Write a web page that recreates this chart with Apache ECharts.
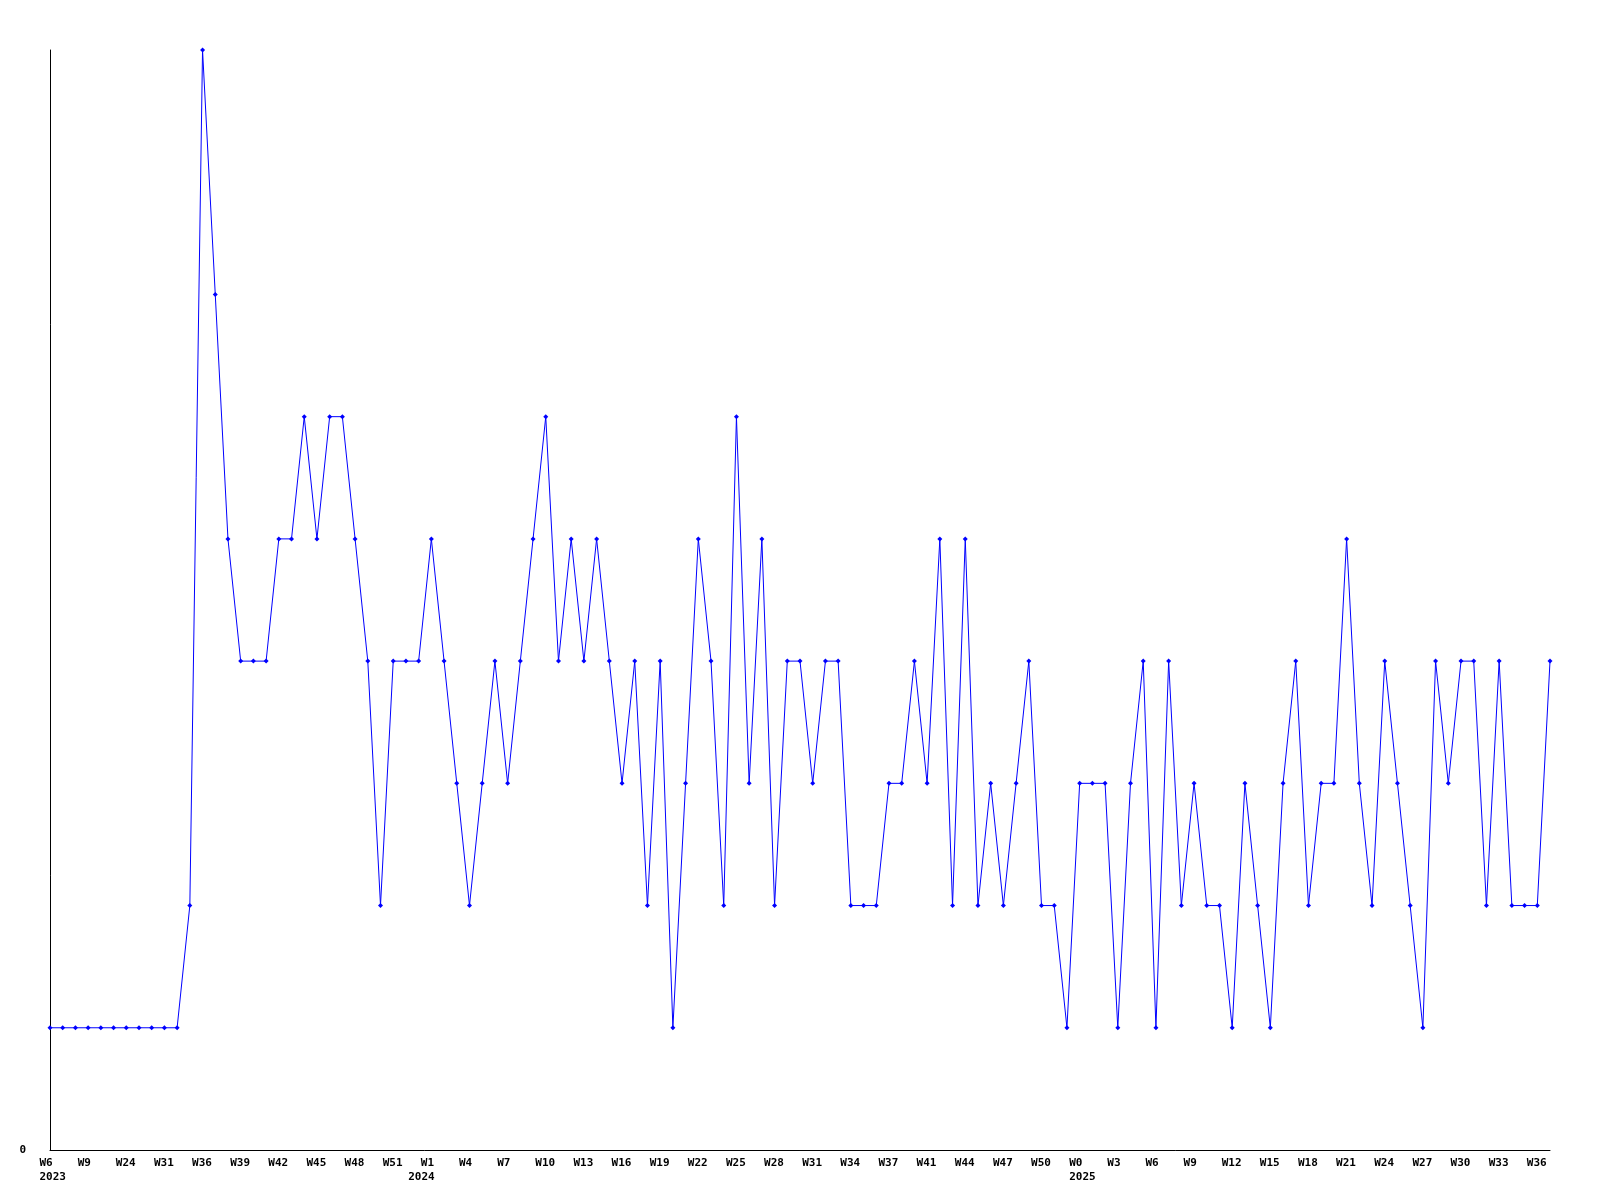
<!DOCTYPE html>
<html>
<head>
<meta charset="utf-8">
<script src="https://cdn.jsdelivr.net/npm/echarts@6/dist/echarts.min.js"></script>
<style>html,body{margin:0;padding:0;background:#fff}#c{width:1600px;height:1200px}</style>
</head>
<body>
<div id="c"></div>
<script>
const weeks2023 = ['W6','W7','W8','W9','W14','W19','W24','W26','W29','W31','W33','W35','W36','W37','W38','W39','W40','W41','W42','W43','W44','W45','W46','W47','W48','W49','W50','W51','W52'];
const weeks2024 = ['W0','W1','W2','W3','W4','W5','W6','W7','W8','W9','W10','W11','W12','W13','W14','W15','W16','W17','W18','W19','W20','W21','W22','W23','W24','W25','W26','W27','W28','W29','W30','W31','W32','W33','W34','W35','W36','W37','W38','W39','W41','W42','W43','W44','W45','W46','W47','W48','W49','W50','W51','W52'];
const weeks2025 = ['W0','W1','W2','W3','W4','W5','W6','W7','W8','W9','W10','W11','W12','W13','W14','W15','W16','W17','W18','W19','W20','W21','W22','W23','W24','W25','W26','W27','W28','W29','W30','W31','W32','W33','W34','W35','W36','W37'];
const categories = weeks2023.concat(weeks2024, weeks2025);
const yearTickIndex = [0, 29, 81];
const yearTickText = ['2023', '2024', '2025'];
const values = [
  1,1,1,1,1,1,1,1,1,1,1,2,9,7,5,4,4,4,5,5,
  6,5,6,6,5,4,2,4,4,4,5,4,3,2,3,4,3,4,5,6,
  4,5,4,5,4,3,4,2,4,1,3,5,4,2,6,3,5,2,4,4,
  3,4,4,2,2,2,3,3,4,3,5,2,5,2,3,2,3,4,2,2,
  1,3,3,3,1,3,4,1,4,2,3,2,2,1,3,2,1,3,4,2,
  3,3,5,3,2,4,3,2,1,4,3,4,4,2,4,2,2,2,4
];
const yMin = 0, yMax = 9;

const chart = echarts.init(document.getElementById('c'), null, {renderer: 'canvas'});
const font = '"DejaVu Sans Mono", monospace';
chart.setOption({
  backgroundColor: '#ffffff',
  animation: false,
  grid: {left: 50, right: 50, top: 50, bottom: 50, containLabel: false},
  xAxis: {
    type: 'category',
    data: categories,
    boundaryGap: false,
    axisLine: {show: true, lineStyle: {color: '#000', width: 1}},
    axisTick: {show: false},
    splitLine: {show: false},
    axisLabel: {
      interval: function (i) { return i % 3 === 0 || yearTickIndex.indexOf(i) >= 0; },
      margin: 6,
      align: 'center',
      formatter: function (v, i) {
        const k = yearTickIndex.indexOf(i);
        const top = (i % 3 === 0) ? v : ' ';
        return k >= 0 ? '{a|' + top + '}\n{a|' + yearTickText[k] + '}' : '{a|' + top + '}';
      },
      rich: {
        a: {width: 21, align: 'left', fontFamily: font, fontWeight: 'bold', fontSize: 11, lineHeight: 14, color: '#000'}
      }
    }
  },
  yAxis: {
    type: 'value',
    min: yMin,
    max: yMax,
    interval: 9,
    axisLine: {show: true, lineStyle: {color: '#000', width: 1}},
    axisTick: {show: false},
    splitLine: {show: false},
    axisLabel: {
      margin: 24,
      fontFamily: font, fontWeight: 'bold', fontSize: 11, color: '#000',
      formatter: function (v) { return v === 0 ? '0' : ''; }
    }
  },
  series: [{
    type: 'line',
    data: values,
    symbol: 'diamond',
    symbolSize: 5,
    showAllSymbol: true,
    lineStyle: {color: '#0000ff', width: 1},
    itemStyle: {color: '#0000ff'}
  }]
});
</script>
</body>
</html>
